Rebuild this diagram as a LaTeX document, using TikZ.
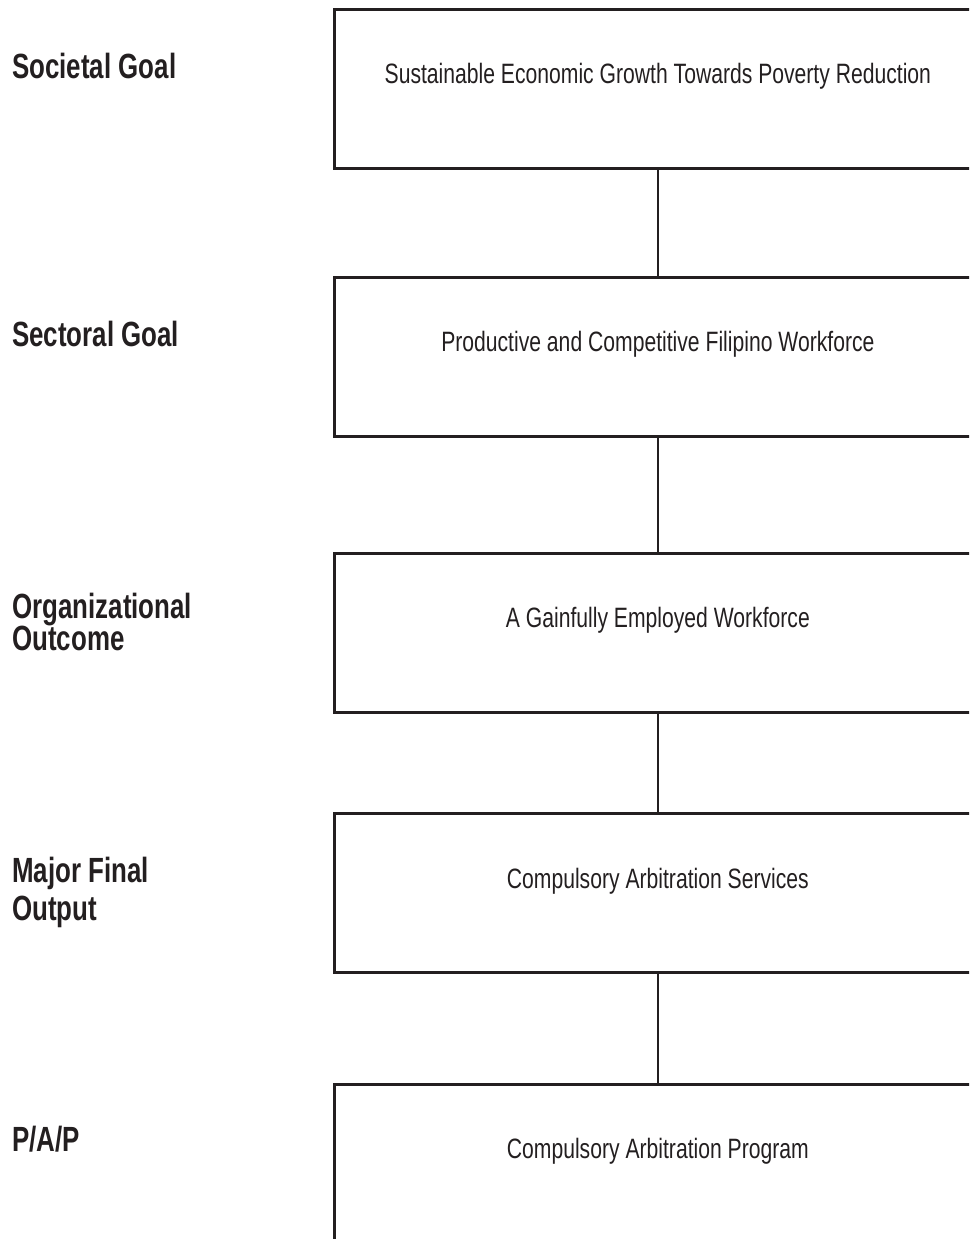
\documentclass[tikz,border=0pt]{standalone}
\usepackage{fontspec}
\setmainfont{Liberation Sans}[FakeStretch=0.74]
\newfontfamily\boxfont{Liberation Sans}[FakeStretch=0.755]
\usepackage{tikz}
\usetikzlibrary{positioning}

\definecolor{ink}{HTML}{231F20}

\begin{document}
\begin{tikzpicture}[x=1pt, y=1pt,
    levelbox/.style={draw=ink, line width=2.7pt, minimum width=647pt, minimum height=159pt, anchor=north west, inner sep=0pt},
    boxtext/.style={text=ink, font=\boxfont\fontsize{28}{30}\selectfont, anchor=base, inner sep=0pt},
    levellabel/.style={text=ink, font=\fontsize{35}{32}\selectfont\bfseries, anchor=base west, align=left, inner sep=0pt},
    link/.style={draw=ink, line width=2.7pt}]
\useasboundingbox (0,0) rectangle (969,-1239);
\clip (0,0) rectangle (969,-1239);

% Boxes (right side runs off the page)
\node[levelbox] (g1) at (333,-8) {};
\node[levelbox] (g2) at (333,-276) {};
\node[levelbox] (g3) at (333,-552) {};
\node[levelbox] (g4) at (333,-812) {};
\node[levelbox, minimum height=200pt] (g5) at (333,-1083) {};

% Box texts
\node[boxtext] (t1) at ([yshift=-75pt]g1.north) {Sustainable Economic Growth Towards Poverty Reduction};
\node[boxtext] (t2) at ([yshift=-75pt]g2.north) {Productive and Competitive Filipino Workforce};
\node[boxtext] (t3) at ([yshift=-75pt]g3.north) {A Gainfully Employed Workforce};
\node[boxtext] (t4) at ([yshift=-76pt]g4.north) {Compulsory Arbitration Services};
\node[boxtext] (t5) at ([yshift=-75pt]g5.north) {Compulsory Arbitration Program};

% Level labels (base = last line)
\node[levellabel] (l1) at (12,-78) {Societal Goal};
\node[levellabel] (l2) at (12,-346) {Sectoral Goal};
\node[levellabel] (l3) at (12,-650) {Organizational\\Outcome};
\node[levellabel] (l4) at (12,-920) {Major Final\\[6pt]Output};
\node[levellabel] (l5) at (12,-1151) {P/A/P};

% Links
\draw[link] (g1.south) -- (g2.north);
\draw[link] (g2.south) -- (g3.north);
\draw[link] (g3.south) -- (g4.north);
\draw[link] (g4.south) -- (g5.north);
\end{tikzpicture}
\end{document}
